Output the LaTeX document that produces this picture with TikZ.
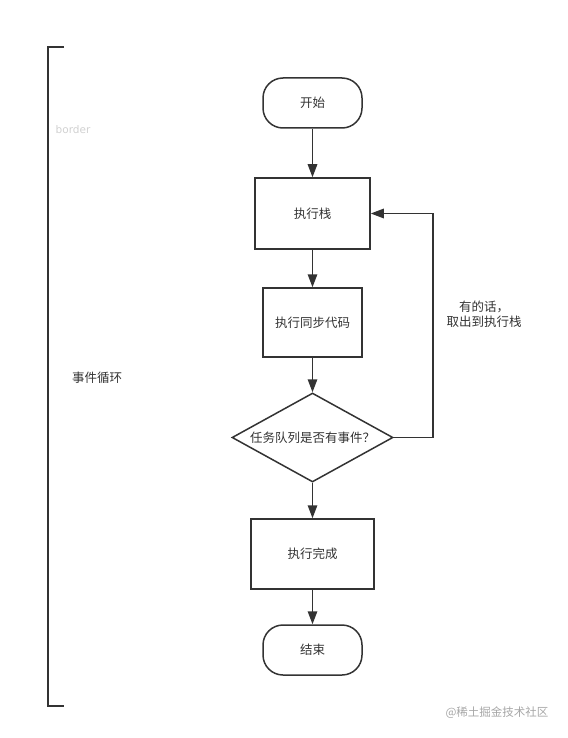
\documentclass[tikz,border=0pt]{standalone}
\usepackage{fontspec}
\newfontfamily\cjk{Noto Sans CJK SC}
\newfontfamily\dv{DejaVu Sans}
\usepackage{tikz}
\usetikzlibrary{shapes.geometric,arrows.meta}

\definecolor{ln}{HTML}{333333}

\begin{document}
\begin{tikzpicture}[x=1pt,y=-1pt,
  every node/.style={font=\cjk\fontsize{12.5}{15}\selectfont,text=ln},
  term/.style={draw=ln,line width=1.5pt,rounded corners=20pt,minimum width=99pt,minimum height=50pt},
  proc/.style={draw=ln,line width=1.5pt,minimum height=70pt},
  cond/.style={draw=ln,line width=1.5pt,diamond,aspect=1.8,inner sep=0pt,minimum width=161pt,minimum height=89pt},
  flow/.style={draw=ln,line width=1.5pt,-{Triangle[length=13pt,width=9.5pt]}}]

\useasboundingbox (0,0) rectangle (567,738);

\node [term] (start) at (312.5,103) {开始};
\node [proc,minimum width=115pt,minimum height=71pt] (stack) at (312.5,213.5) {执行栈};
\node [proc,minimum width=99pt,minimum height=69pt] (sync) at (312.5,322.5) {执行同步代码};
\node [cond] (queue) at (312.5,437.5) {任务队列是否有事件？};
\node [proc,minimum width=123pt] (done) at (312.5,554) {执行完成};
\node [term] (end) at (312.5,650) {结束};

\draw [flow] (start)--(stack);\draw [flow] (stack)--(sync);\draw [flow] (sync)--(queue);
\draw [flow] (queue)--(done);\draw [flow] (done)--(end);

%loop back
\coordinate (turn) at (433,437.5);
\draw [flow] (queue.east)--(turn)|-(stack.east);
\node [align=center] (take) at (484,314) {有的话，\\取出到执行栈};

%bracket
\coordinate (bt) at (48,47);\coordinate (bb) at (48,706);
\draw [ln,line width=1.5pt] (64,47)--(bt)--(bb)--(64,706);
\node [font=\dv\fontsize{10.5}{12}\selectfont,text=black!18] (border) at (73,130) {border};
\node (loop) at (97,378) {事件循环};

\node [font=\cjk\fontsize{11.5}{13}\selectfont,text=black!35] (mark) at (497,713) {@稀土掘金技术社区};

\end{tikzpicture}
\end{document}
